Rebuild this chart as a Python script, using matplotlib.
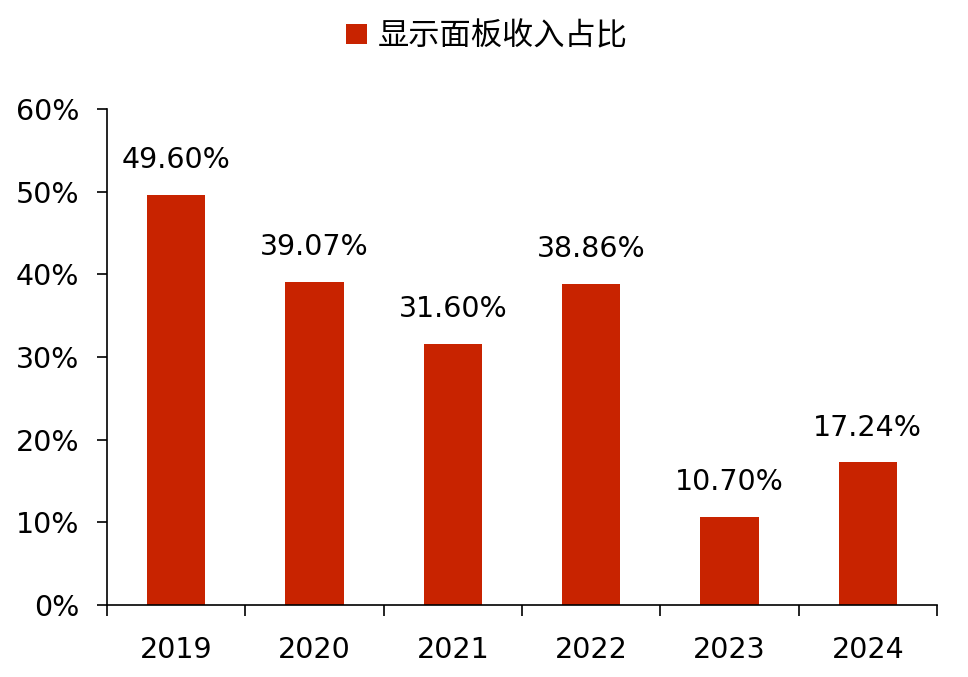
import matplotlib
matplotlib.use("Agg")
import matplotlib.pyplot as plt
from matplotlib.ticker import FuncFormatter, FixedLocator

years = ["2019", "2020", "2021", "2022", "2023", "2024"]
values = [49.60, 39.07, 31.60, 38.86, 10.70, 17.24]
labels = ["49.60%", "39.07%", "31.60%", "38.86%", "10.70%", "17.24%"]
series_name = "显示面板收入占比"

plt.rcParams['font.family'] = ['DejaVu Sans']
fig = plt.figure(figsize=(9.68, 6.77), dpi=100)
ax = fig.add_axes([107/968, 1-605/677, (937-107)/968, (605-109)/677])

color = "#C82300"
x = list(range(len(years)))
bars = ax.bar(x, values, width=0.42, color=color, label=series_name, zorder=2)

for xi, v, lab in zip(x, values, labels):
    ax.annotate(lab, (xi, v), xytext=(0, 15), textcoords="offset points",
                ha="center", va="bottom", fontsize=20.5, color="black")

ax.set_xlim(-0.5, len(years) - 0.5)
ax.set_ylim(0, 60)
ax.set_yticks(range(0, 61, 10))
ax.yaxis.set_major_formatter(FuncFormatter(lambda v, p: f"{int(v)}%"))
ax.set_xticks(x)
ax.set_xticklabels(years)
ax.xaxis.set_minor_locator(FixedLocator([i - 0.5 for i in range(len(years) + 1)]))
ax.tick_params(axis="x", which="major", length=0, pad=22, labelsize=20.5)
ax.tick_params(axis="x", which="minor", length=8, width=1.2, direction="out")
ax.tick_params(axis="y", length=7, width=1.2, direction="out", labelsize=20.5, pad=13)

for s in ["top", "right"]:
    ax.spines[s].set_visible(False)
ax.spines["left"].set_linewidth(1.2)
ax.spines["bottom"].set_linewidth(1.2)

leg = fig.legend(handles=[bars], labels=[series_name], loc="center",
                 bbox_to_anchor=(487/968, 1-36/677), frameon=False,
                 prop={'family': ['Noto Sans CJK SC', 'DejaVu Sans'], 'size': 22.5},
                 handlelength=0.65, handleheight=0.65, handletextpad=0.35)

fig.savefig("out.png", dpi=100)
